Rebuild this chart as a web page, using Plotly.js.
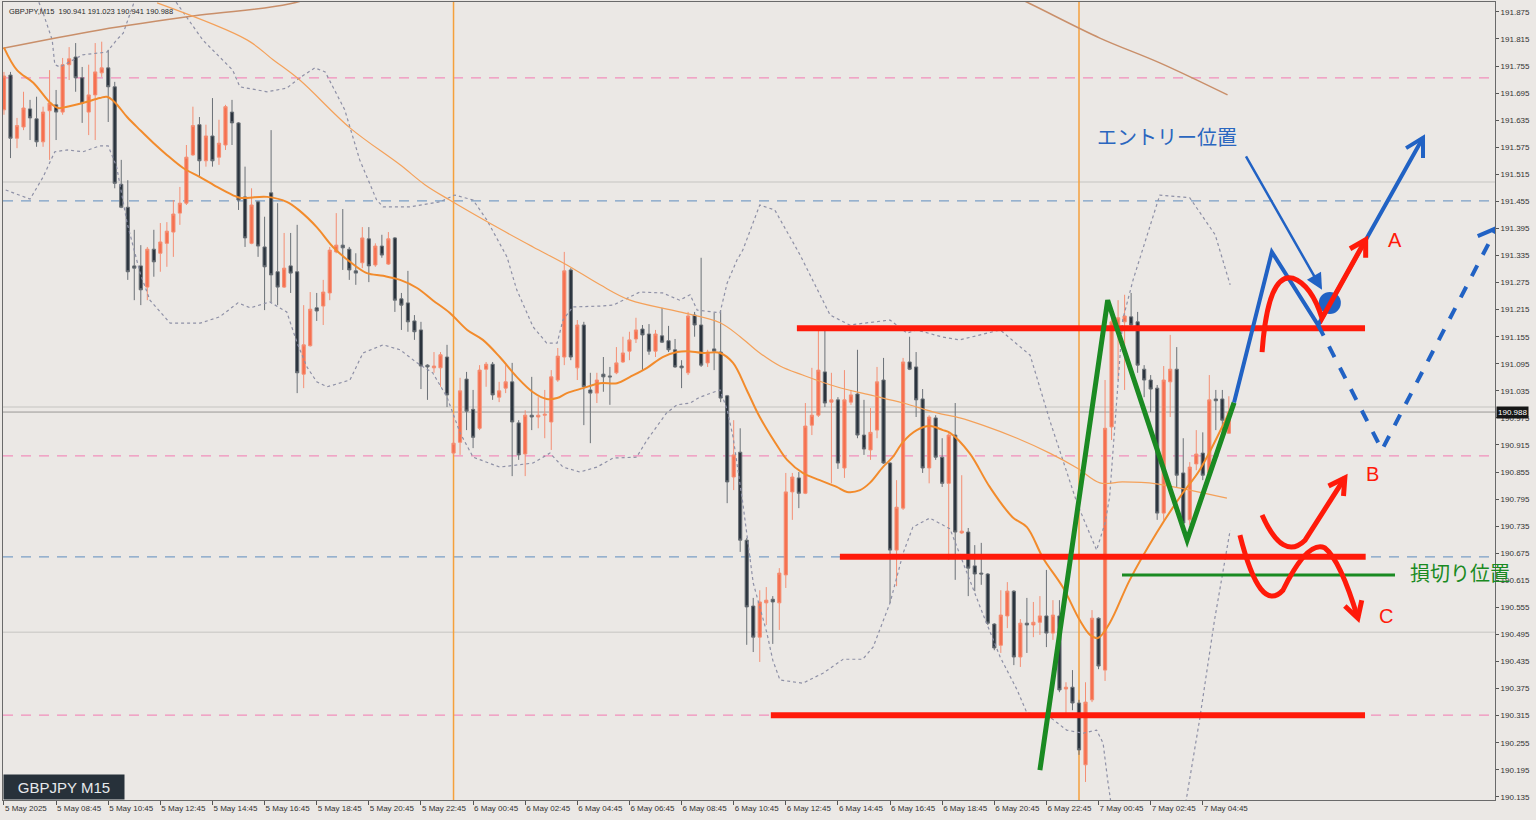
<!DOCTYPE html>
<html>
<head>
<meta charset="utf-8">
<script src="https://cdn.plot.ly/plotly-3.0.1.min.js"></script>
<style>
  html, body { margin: 0; padding: 0; background: #ebe8e5; }
  #chart { width: 1536px; height: 820px; }
</style>
</head>
<body>
<div id="chart"></div>
<script>
// GBPJPY M15 candles, 5 May 06:45 -> 7 May 05:45 (bar index 0..188)
const symbol = 'GBPJPY';
const timeframe = 'M15';

const open = [
191.658,191.735,191.595,191.620,191.660,191.638,191.587,191.656,191.669,191.653,
191.758,191.775,191.729,191.653,191.691,191.740,191.751,191.709,191.493,191.442,
191.312,191.312,191.265,191.349,191.340,191.362,191.387,191.429,191.451,191.558,
191.625,191.545,191.600,191.553,191.580,191.653,191.629,191.465,191.362,191.454,
191.354,191.474,191.299,191.265,191.312,191.299,191.072,191.135,191.219,191.223,
191.252,191.343,191.358,191.349,191.301,191.319,191.372,191.314,191.356,191.316,
191.374,191.239,191.230,191.190,191.170,191.092,191.086,191.086,191.110,190.897,
190.921,191.061,190.994,190.952,191.083,191.094,191.021,191.041,191.055,190.964,
190.895,190.981,190.977,190.981,190.966,191.059,191.110,191.303,191.086,191.181,
191.037,191.030,191.072,191.068,191.075,191.099,191.123,191.150,191.172,191.161,
191.123,191.157,191.146,191.126,191.090,191.075,191.203,191.181,191.097,191.128,
191.121,191.024,190.844,190.899,190.704,190.558,190.489,190.565,190.573,190.565,
190.627,190.811,190.842,190.808,190.959,190.981,191.077,191.010,191.015,190.864,
191.010,191.028,190.937,190.904,190.948,191.059,190.875,190.682,190.775,191.099,
191.088,191.017,190.864,190.975,190.888,190.830,190.937,190.720,190.722,190.647,
190.631,190.629,190.518,190.471,190.536,190.591,190.445,190.520,190.516,190.522,
190.536,190.498,190.536,190.374,190.378,190.343,190.206,190.350,190.531,190.416,
190.955,191.181,191.188,191.199,191.188,191.083,191.059,191.041,190.764,191.055,
191.083,190.853,190.749,190.873,190.897,190.853,191.017,191.017,190.941
];
const high = [
191.742,191.742,191.640,191.698,191.680,191.687,191.665,191.746,191.702,191.773,
191.797,191.806,191.753,191.758,191.806,191.809,191.791,191.720,191.547,191.502,
191.392,191.358,191.354,191.392,191.407,191.409,191.458,191.487,191.580,191.665,
191.642,191.625,191.684,191.636,191.669,191.680,191.631,191.532,191.484,191.456,
191.421,191.613,191.451,191.385,191.385,191.403,191.225,191.254,191.252,191.281,
191.354,191.429,191.438,191.354,191.340,191.398,191.398,191.362,191.381,191.387,
191.376,191.252,191.301,191.203,191.188,191.094,191.121,191.121,191.137,190.986,
191.064,191.077,191.037,191.092,191.099,191.099,191.055,191.092,191.097,190.970,
190.992,191.066,191.021,191.037,191.081,191.130,191.343,191.307,191.192,191.188,
191.075,191.075,191.110,191.088,191.132,191.155,191.166,191.197,191.181,191.183,
191.170,191.219,191.179,191.150,191.103,191.210,191.210,191.330,191.126,191.208,
191.214,191.026,190.970,190.952,190.709,190.576,190.593,190.600,190.580,190.642,
190.853,190.853,190.855,191.008,191.086,191.177,191.170,191.075,191.021,191.081,
191.037,191.126,191.015,190.997,191.088,191.108,190.877,190.837,191.108,191.155,
191.121,191.039,190.981,190.981,190.930,190.941,191.008,190.848,190.731,190.693,
190.698,190.631,190.520,190.593,190.611,190.593,190.529,190.576,190.567,190.580,
190.638,190.571,190.571,190.389,190.416,190.350,190.389,190.549,190.533,191.059,
191.221,191.236,191.248,191.252,191.210,191.092,191.070,191.048,191.090,191.159,
191.132,190.930,190.877,190.948,190.943,191.070,191.037,191.037,191.023
];
const low = [
191.647,191.551,191.573,191.613,191.591,191.576,191.576,191.547,191.591,191.647,
191.724,191.698,191.629,191.602,191.591,191.731,191.631,191.484,191.440,191.281,
191.236,191.225,191.236,191.288,191.299,191.310,191.332,191.403,191.447,191.556,
191.509,191.532,191.532,191.536,191.569,191.580,191.436,191.354,191.360,191.332,
191.214,191.232,191.225,191.263,191.252,191.030,191.041,191.133,191.190,191.181,
191.236,191.340,191.303,191.281,191.270,191.307,191.276,191.310,191.330,191.314,
191.210,191.170,191.166,191.148,191.039,191.015,191.075,191.044,190.999,190.893,
190.893,190.948,190.908,190.948,191.044,191.015,191.010,191.030,190.846,190.882,
190.846,190.948,190.952,190.930,190.904,191.055,191.092,191.103,191.059,190.959,
190.919,191.008,191.033,191.004,191.072,191.097,191.103,191.141,191.081,191.115,
191.110,191.141,191.121,191.086,191.041,191.070,191.155,191.088,191.088,191.081,
191.010,190.786,190.815,190.678,190.472,190.456,190.434,190.516,190.474,190.505,
190.598,190.749,190.775,190.806,190.937,190.977,190.999,190.830,190.862,190.842,
191.004,190.930,190.893,190.882,190.930,190.873,190.565,190.602,190.771,191.081,
190.977,190.853,190.830,190.882,190.822,190.660,190.616,190.718,190.580,190.591,
190.605,190.516,190.460,190.454,190.509,190.427,190.423,190.454,190.489,190.494,
190.467,190.483,190.367,190.321,190.327,190.228,190.168,190.345,190.418,190.392,
190.926,191.059,191.037,191.170,191.075,191.021,190.988,190.749,190.749,190.977,
190.820,190.733,190.738,190.859,190.837,190.848,190.948,190.939,190.941
];
const close = [
191.733,191.595,191.623,191.662,191.640,191.587,191.653,191.673,191.653,191.758,
191.771,191.729,191.673,191.691,191.742,191.751,191.709,191.495,191.442,191.299,
191.307,191.259,191.349,191.321,191.365,191.389,191.427,191.451,191.553,191.623,
191.545,191.600,191.545,191.584,191.665,191.629,191.458,191.374,191.447,191.356,
191.310,191.292,191.265,191.307,191.296,191.075,191.137,191.216,191.212,191.254,
191.347,191.358,191.352,191.303,191.296,191.374,191.312,191.356,191.336,191.372,
191.236,191.225,191.188,191.166,191.090,191.088,191.090,191.115,191.026,190.919,
191.035,190.990,190.932,191.081,191.094,191.026,191.035,191.055,190.966,190.893,
190.981,190.977,190.981,190.983,191.066,191.112,191.301,191.110,191.181,191.044,
191.030,191.059,191.066,191.066,191.097,191.119,191.148,191.170,191.159,191.123,
191.161,191.143,191.126,191.088,191.086,191.201,191.181,191.092,191.121,191.123,
191.019,190.833,190.893,190.704,190.556,190.489,190.567,190.571,190.567,190.631,
190.811,190.844,190.808,190.957,190.981,191.081,191.008,191.015,190.875,191.015,
191.026,190.937,190.906,190.943,191.055,190.875,190.682,190.777,191.099,191.083,
191.015,190.864,190.977,190.888,190.830,190.937,190.722,190.724,190.642,190.629,
190.629,190.520,190.465,190.538,190.591,190.445,190.520,190.516,190.522,190.536,
190.498,190.538,190.372,190.378,190.343,190.239,190.345,190.531,190.425,190.952,
191.188,191.197,191.201,191.181,191.092,191.059,191.039,190.764,191.059,191.083,
190.848,190.742,190.866,190.895,190.848,191.015,191.013,190.970,190.988
];

// Time-axis labels, one every 8 bars (2 hours)
const timeTickBars = [0,8,16,24,32,40,48,56,64,72,80,88,96,104,112,120,128,136,144,152,160,168,176,184];
const timeTickLabels = [
  '5 May 2025','5 May 08:45','5 May 10:45','5 May 12:45','5 May 14:45','5 May 16:45',
  '5 May 18:45','5 May 20:45','5 May 22:45','6 May 00:45','6 May 02:45','6 May 04:45',
  '6 May 06:45','6 May 08:45','6 May 10:45','6 May 12:45','6 May 14:45','6 May 16:45',
  '6 May 18:45','6 May 20:45','6 May 22:45','7 May 00:45','7 May 02:45','7 May 04:45'
];

// Indicator readings (bar index, price)
const fastMaBar = [0,2,4.5,7,8.3,9.7,12.1,14.7,15.8,17,18.9,20.9,22.9,25,27.5,30.1,32.7,35.1,36.2,40.4,43.4,45.4,48,50.5,53.1,55.7,58.2,60.8,63.4,65.8,68.4,71.1,73.5,76.1,78.7,81.2,83.3,84.9,86.4,88.9,91.5,94.1,96.1,98.7,101.1,103.3,104.8,107.3,109.9,111.9,114,116,119.1,120.2,122.6,125.2,127.8,129.4,131.4,132.9,134.9,136.4,138,140.1,142.1,144.1,145.2,148.2,151.3,154.8,157,159.5,162.5,165.1,166.7,167.9,169.7,172.8,176.9,180.9,183.5,188.2];
const fastMaPrice = [191.796,191.746,191.718,191.675,191.662,191.665,191.673,191.684,191.687,191.675,191.642,191.613,191.585,191.558,191.529,191.509,191.487,191.469,191.463,191.465,191.454,191.434,191.398,191.354,191.321,191.296,191.290,191.281,191.263,191.236,191.208,191.170,191.148,191.110,191.066,191.032,191.017,191.019,191.030,191.041,191.052,191.052,191.066,191.086,191.110,191.121,191.123,191.119,191.119,191.097,191.037,190.977,190.904,190.882,190.853,190.837,190.822,190.811,190.815,190.831,190.866,190.888,190.922,190.948,190.957,190.948,190.942,190.897,190.822,190.755,190.733,190.664,190.600,190.527,190.494,190.487,190.520,190.616,190.720,190.808,190.859,190.992];

const midMaBar = [23.5,37.3,41.3,45.4,53.1,60.8,64.6,68.4,75,81.2,86.4,91.5,96.1,103.7,109.9,113,116,119.1,122.6,127.8,132.9,138,143.2,146.7,150.2,155.5,160.5,164.7,168.2,171.7,176.9,182,187.7];
const midMaPrice = [191.895,191.813,191.769,191.724,191.618,191.536,191.492,191.458,191.403,191.354,191.314,191.270,191.236,191.210,191.186,191.155,191.119,191.090,191.070,191.044,191.026,191.008,190.986,190.975,190.959,190.930,190.897,190.864,190.831,190.833,190.829,190.815,190.797];

const slowMaBar = [-0.6,14.7,30.1,43.9,60.8,91.5,129.8,152.9,157.5,168.2,177.4,187.8];
const slowMaPrice = [191.793,191.835,191.868,191.893,191.968,192.035,191.990,191.924,191.893,191.817,191.762,191.691];

const bandUpperBar = [4,6,7.4,7.8,8.6,12.1,15.8,17.3,18.3,20.1,23.2,26.5,30.5,35.1,36.2,40.4,43.4,45.4,47.7,49.3,52.3,54.6,57.2,58.2,62.3,66.9,69.2,72,74.1,77.2,78.7,81.2,83.3,84.9,85.8,87.3,91.5,93.5,97.6,101.1,103.7,105.3,106.4,109.9,111,112.5,113.4,116,118.3,122.2,126.8,129.8,136,138.6,140.1,144.1,146.7,152.9,157.5,160.5,164.7,167.7,169,169.7,171.7,173.3,177.4,182,185.9,188.2];
const bandUpperPrice = [191.946,191.873,191.813,191.758,191.753,191.780,191.786,191.813,191.828,191.902,191.946,191.895,191.813,191.746,191.709,191.698,191.706,191.729,191.751,191.742,191.658,191.547,191.458,191.443,191.443,191.454,191.469,191.458,191.414,191.332,191.259,191.177,191.141,191.141,191.192,191.221,191.223,191.225,191.254,191.252,191.236,191.248,191.214,191.208,191.274,191.325,191.347,191.447,191.436,191.336,191.203,191.181,191.192,191.163,191.170,191.154,191.148,191.170,191.114,190.970,190.786,190.682,190.742,190.800,191.192,191.281,191.469,191.463,191.381,191.270];

const bandLowerBar = [-0.6,4,6,7.8,9.7,12.1,14.7,16,17.3,18.9,20.9,22.4,25.5,30.1,33.1,35.9,37.8,40.8,43.4,45,46.5,48,49.6,53.1,55.1,58.2,60.8,63.4,65.8,68,70,72,76.1,81.2,83.8,85.8,88.4,91,93.5,97.1,98.7,101.7,103.3,105.3,106.8,109.9,111,111.9,113.4,115,117.1,118,119.1,122.6,125.7,128.8,131.8,133.4,136,138,139.5,142.1,145.2,147.8,150.2,152.9,155.5,157,160.5,163.1,165.6,167.7,168.7,169.4,170.5,175.9,181.2,183.5,185.8,188.2];
const bandLowerPrice = [191.485,191.460,191.509,191.565,191.569,191.565,191.578,191.578,191.531,191.407,191.296,191.236,191.185,191.185,191.199,191.230,191.219,191.232,191.210,191.141,191.088,191.055,191.044,191.059,191.119,191.137,191.126,191.097,191.075,191.021,190.942,190.888,190.866,190.875,190.897,190.866,190.855,190.866,190.886,190.888,190.926,190.986,191.004,191.008,191.021,191.037,190.993,190.933,190.786,190.609,190.498,190.438,190.394,190.387,190.409,190.440,190.440,190.467,190.565,190.675,190.733,190.753,190.729,190.631,190.542,190.445,190.372,190.321,190.312,190.283,190.276,190.283,190.254,190.172,190.061,189.973,190.106,190.305,190.527,190.726];

// Horizontal reference levels and day separators
const pinkLevels = [191.729, 190.891, 190.316];
const blueLevels = [191.456, 190.667];
const greyLevels = [191.498, 190.500, 190.999];
const daySeparatorBars = [69, 165];

// Trader's drawn levels: start bar, end bar, price
const zoneStartBar = [121.7, 128.3, 117.7];
const zoneEndBar   = [208.9, 209.0, 208.9];
const zonePrice    = [191.174, 190.667, 190.316];

// Scenario sketch points (bar index, price)
const waveBar   = [159.0, 169.4, 181.6, 188.8];
const wavePrice = [190.194, 191.236, 190.704, 191.009];
const planBar   = [188.8, 194.6, 201.7, 217.8];
const planPrice = [191.009, 191.343, 191.181, 191.596];
const altBar    = [201.7, 211.5, 229.1];
const altPrice  = [191.181, 190.904, 191.396];
const stopLevel = {from: 171.6, to: 213.5, price: 190.627};
const entryPoint = {bar: 203.5, price: 191.230};

const BG = '#ebe8e5';
const BULL = '#f6704f', BULL_WICK = '#f48f74';
const BEAR = '#2a333d', BEAR_WICK = '#6b7177';
const RED = '#ff1a0a', GREEN = '#1a8a22', BLUE = '#2162c4';

const bars = close.map((_, i) => i);
const last = close.length - 1;

const traces = [
  {
    type: 'candlestick', x: bars, open, high, low, close,
    increasing: {line: {color: BULL_WICK, width: 1}, fillcolor: BULL},
    decreasing: {line: {color: BEAR_WICK, width: 1}, fillcolor: BEAR},
    whiskerwidth: 0, hoverinfo: 'skip'
  },
  {type: 'scatter', mode: 'lines', x: bandUpperBar, y: bandUpperPrice,
   line: {color: '#8e90a6', width: 1.2, dash: 'dot'}, hoverinfo: 'skip'},
  {type: 'scatter', mode: 'lines', x: bandLowerBar, y: bandLowerPrice,
   line: {color: '#8e90a6', width: 1.2, dash: 'dot'}, hoverinfo: 'skip'},
  {type: 'scatter', mode: 'lines', x: slowMaBar, y: slowMaPrice, line: {color: '#c98f6a', width: 1.5, shape: 'spline'}, hoverinfo: 'skip'},
  {type: 'scatter', mode: 'lines', x: midMaBar, y: midMaPrice, line: {color: '#f4a15a', width: 1.2, shape: 'spline'}, hoverinfo: 'skip'},
  {type: 'scatter', mode: 'lines', x: fastMaBar, y: fastMaPrice, line: {color: '#f28b2c', width: 2, shape: 'spline'}, hoverinfo: 'skip'},
  {type: 'scatter', mode: 'markers', x: [entryPoint.bar], y: [entryPoint.price],
   marker: {color: BLUE, size: 22}, hoverinfo: 'skip'}
];

const shapes = [];
pinkLevels.forEach(p => shapes.push({type: 'line', xref: 'paper', x0: 0, x1: 1, yref: 'y', y0: p, y1: p, layer: 'below',
  line: {color: '#f28fbc', width: 1.2, dash: '10px,8px'}}));
blueLevels.forEach(p => shapes.push({type: 'line', xref: 'paper', x0: 0, x1: 1, yref: 'y', y0: p, y1: p, layer: 'below',
  line: {color: '#7b9ec6', width: 1.2, dash: '10px,8px'}}));
greyLevels.forEach(p => shapes.push({type: 'line', xref: 'paper', x0: 0, x1: 1, yref: 'y', y0: p, y1: p, layer: 'below',
  line: {color: '#d2d0cd', width: 1.5}}));
shapes.push({type: 'line', xref: 'paper', x0: 0, x1: 1, yref: 'y', y0: close[last], y1: close[last], layer: 'below',
  line: {color: '#9a9896', width: 1}});
daySeparatorBars.forEach(b => shapes.push({type: 'line', xref: 'x', x0: b, x1: b, yref: 'paper', y0: 0, y1: 1, layer: 'below',
  line: {color: '#f5a03c', width: 1.5}}));

// drawn support / resistance
zonePrice.forEach((p, k) => shapes.push({type: 'line', xref: 'x', yref: 'y', x0: zoneStartBar[k], x1: zoneEndBar[k], y0: p, y1: p,
  line: {color: RED, width: 6}}));

const pathOf = (xs, ys) => xs.map((x, k) => (k ? 'L' : 'M') + x + ',' + ys[k]).join(' ');

// green zig-zag and stop line
shapes.push({type: 'path', xref: 'x', yref: 'y', path: pathOf(waveBar, wavePrice), line: {color: GREEN, width: 5}});
shapes.push({type: 'line', xref: 'x', yref: 'y', x0: stopLevel.from, x1: stopLevel.to, y0: stopLevel.price, y1: stopLevel.price,
  line: {color: GREEN, width: 3}});

// blue main scenario + arrow head
shapes.push({type: 'path', xref: 'x', yref: 'y', path: pathOf(planBar, planPrice), line: {color: BLUE, width: 4}});
shapes.push({type: 'path', xref: 'x', yref: 'y', path: 'M215.2,191.573 L217.8,191.596 L217.8,191.551', line: {color: BLUE, width: 4}});
// blue alternative scenario (dashed)
shapes.push({type: 'path', xref: 'x', yref: 'y', path: pathOf(altBar, altPrice), line: {color: BLUE, width: 4, dash: 'dash'}});
shapes.push({type: 'path', xref: 'x', yref: 'y', path: 'M226.2,191.378 L229.1,191.396 L229.3,191.347', line: {color: BLUE, width: 4}});

// red sketches A, B, C
shapes.push({type: 'path', xref: 'x', yref: 'y',
  path: 'M193.1,191.121 Q194.0,191.298 197.8,191.285 Q200.7,191.270 202.3,191.196 L209.0,191.370', line: {color: RED, width: 5}});
shapes.push({type: 'path', xref: 'x', yref: 'y', path: 'M206.6,191.350 L209.0,191.370 L209.0,191.330', line: {color: RED, width: 5}});
shapes.push({type: 'path', xref: 'x', yref: 'y',
  path: 'M193.1,190.760 Q196.3,190.656 199.7,190.704 L205.8,190.842', line: {color: RED, width: 5}});
shapes.push({type: 'path', xref: 'x', yref: 'y', path: 'M203.3,190.824 L205.8,190.842 L205.6,190.802', line: {color: RED, width: 5}});
shapes.push({type: 'path', xref: 'x', yref: 'y',
  path: 'M189.7,190.715 Q192.8,190.538 196.3,190.593 Q200.1,190.704 202.7,190.687 Q205.1,190.660 207.8,190.531', line: {color: RED, width: 5}});
shapes.push({type: 'path', xref: 'x', yref: 'y', path: 'M208.4,190.571 L207.8,190.531 L205.8,190.558', line: {color: RED, width: 5}});

const jp = '"Noto Sans CJK JP", "Noto Sans", sans-serif';
const annotations = [
  {xref: 'paper', yref: 'paper', x: 0, y: 1, xanchor: 'left', yanchor: 'top', xshift: 4, yshift: -3, showarrow: false,
   text: `${symbol},${timeframe}  ${open[last].toFixed(3)} ${high[last].toFixed(3)} ${low[last].toFixed(3)} ${close[last].toFixed(3)}`,
   font: {family: 'Liberation Sans, Arial, sans-serif', size: 7.5, color: '#2a2a2a'}},
  {xref: 'paper', yref: 'paper', x: 0, y: 0, xanchor: 'left', yanchor: 'bottom', showarrow: false,
   text: `${symbol} ${timeframe}`, width: 116, height: 20, bgcolor: '#27313a', borderpad: 2,
   font: {family: 'Liberation Sans, Arial, sans-serif', size: 15, color: '#e6e9ec'}},
  {xref: 'paper', yref: 'y', x: 1, y: close[last], xanchor: 'left', xshift: 1, showarrow: false,
   text: close[last].toFixed(3), bgcolor: '#161616', borderpad: 1,
   font: {family: 'Liberation Sans, Arial, sans-serif', size: 8, color: '#ffffff'}},
  {xref: 'x', yref: 'y', x: 178.5, y: 191.598, showarrow: false, text: 'エントリー位置',
   font: {family: jp, size: 20, color: '#2a66bf'}},
  {xref: 'x', yref: 'y', x: 202.3, y: 191.259, ax: 190.5, ay: 191.558, axref: 'x', ayref: 'y',
   showarrow: true, arrowhead: 2, arrowsize: 1.3, arrowwidth: 2.5, arrowcolor: BLUE, standoff: 0, text: ''},
  {xref: 'x', yref: 'y', x: 215.5, y: 190.633, xanchor: 'left', showarrow: false, text: '損切り位置',
   font: {family: jp, size: 20, color: GREEN}},
  {xref: 'x', yref: 'y', x: 213.5, y: 191.370, showarrow: false, text: 'A',
   font: {family: 'Liberation Sans, Arial, sans-serif', size: 20, color: RED}},
  {xref: 'x', yref: 'y', x: 210.0, y: 190.851, showarrow: false, text: 'B',
   font: {family: 'Liberation Sans, Arial, sans-serif', size: 20, color: RED}},
  {xref: 'x', yref: 'y', x: 212.1, y: 190.536, showarrow: false, text: 'C',
   font: {family: 'Liberation Sans, Arial, sans-serif', size: 20, color: RED}}
];

const tickFont = {family: 'Liberation Sans, Arial, sans-serif', size: 8, color: '#333333'};
const layout = {
  width: 1536, height: 820,
  margin: {l: 3, r: 41, t: 2, b: 20},
  paper_bgcolor: BG, plot_bgcolor: BG,
  showlegend: false, dragmode: false,
  xaxis: {
    type: 'linear', range: [-0.15, 228.85], fixedrange: true,
    tickmode: 'array', tickvals: timeTickBars, ticktext: timeTickLabels,
    tickangle: 0, ticks: 'outside', ticklen: 4, tickcolor: '#555', ticklabelposition: 'outside right',
    tickfont: tickFont, showgrid: false, zeroline: false,
    showline: true, linecolor: '#6a6a6a', linewidth: 1, mirror: true,
    rangeslider: {visible: false}
  },
  yaxis: {
    side: 'right', range: [190.128, 191.897], fixedrange: true,
    tick0: 190.135, dtick: 0.06, tickformat: '.3f',
    ticks: 'outside', ticklen: 3, tickcolor: '#555', tickfont: tickFont,
    showgrid: false, zeroline: false,
    showline: true, linecolor: '#6a6a6a', linewidth: 1, mirror: true
  },
  shapes, annotations
};

Plotly.newPlot('chart', traces, layout, {displayModeBar: false, staticPlot: true});
</script>
</body>
</html>
